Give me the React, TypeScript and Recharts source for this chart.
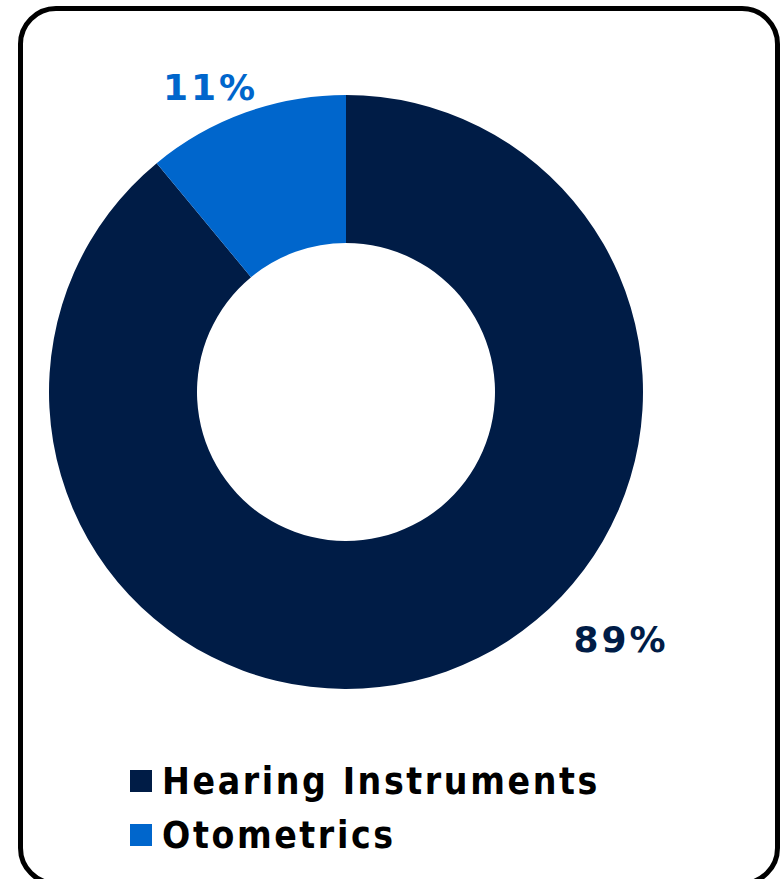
import React from "react";
import { PieChart, Pie, Cell } from "recharts";

const segments = ["Hearing Instruments", "Otometrics"];
const shares = [89, 11];
const colors = ["#001C46", "#0066CC"];

const data = segments.map((name, i) => ({ name, value: shares[i] }));

const labelOffsets = [
  { angle: -42, radius: 370 },
  { angle: 114, radius: 333 },
];

const RAD = Math.PI / 180;

const renderLabel = (props: any) => {
  const { cx, cy, index, value } = props;
  const o = labelOffsets[index];
  const x = cx + o.radius * Math.cos(o.angle * RAD);
  const y = cy - o.radius * Math.sin(o.angle * RAD);
  return (
    <text
      x={x}
      y={y}
      fill={colors[index]}
      textAnchor="middle"
      dominantBaseline="central"
      fontFamily="DejaVu Sans"
      fontWeight="bold"
      fontSize={36}
      letterSpacing={3}
    >
      {`${value}%`}
    </text>
  );
};

export default function App() {
  return (
    <div
      style={{
        position: "absolute",
        left: 0,
        top: 0,
        width: 784,
        height: 879,
        overflow: "hidden",
        background: "#fff",
      }}
    >
      <div
        style={{
          position: "absolute",
          left: 18,
          top: 6,
          width: 752,
          height: 870,
          border: "5px solid #000",
          borderRadius: 38,
        }}
      />
      <PieChart width={784} height={879} margin={{ top: 0, right: 0, bottom: 0, left: 0 }}>
        <Pie
          data={data}
          dataKey="value"
          nameKey="name"
          cx={346}
          cy={392}
          outerRadius={297}
          innerRadius={149}
          startAngle={90}
          endAngle={-270}
          stroke="none"
          label={renderLabel}
          labelLine={false}
          isAnimationActive={false}
        >
          {data.map((d, i) => (
            <Cell key={d.name} fill={colors[i]} />
          ))}
        </Pie>
      </PieChart>
      <div style={{ position: "absolute", left: 130, top: 754, width: 620 }}>
        {segments.map((name, i) => (
          <div
            key={name}
            style={{
              display: "flex",
              alignItems: "center",
              height: 54,
              fontFamily: "'DejaVu Sans Condensed', 'DejaVu Sans'",
              fontStretch: "condensed",
              fontWeight: "bold",
              fontSize: 37,
              letterSpacing: 2.6,
              color: "#000",
            }}
          >
            <span
              style={{
                display: "inline-block",
                width: 22,
                height: 22,
                background: colors[i],
                marginRight: 10,
              }}
            />
            <span>{name}</span>
          </div>
        ))}
      </div>
    </div>
  );
}
